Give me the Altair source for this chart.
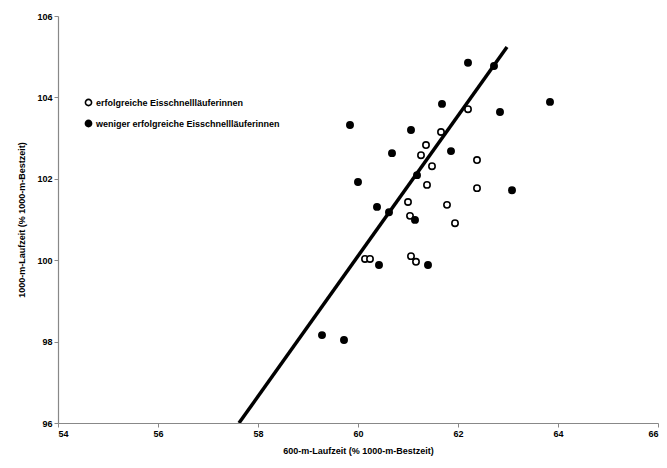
import altair as alt
import pandas as pd

# successful skaters (open circles)
open_x = [62.20, 61.66, 61.36, 61.26, 61.48, 62.38, 62.38, 61.38, 61.00, 61.78, 61.04, 61.94, 60.14, 60.24, 61.06, 61.16]
open_y = [103.71, 103.15, 102.83, 102.58, 102.31, 102.46, 101.77, 101.85, 101.43, 101.36, 101.09, 100.91, 100.03, 100.03, 100.10, 99.96]

# less successful skaters (filled circles)
filled_x = [59.84, 61.06, 60.68, 62.20, 61.68, 62.84, 63.84, 61.86, 62.72, 60.00, 60.38, 60.62, 61.14, 60.42, 61.40, 63.08, 59.28, 59.72, 61.18]
filled_y = [103.32, 103.20, 102.63, 104.85, 103.84, 103.64, 103.89, 102.68, 104.77, 101.92, 101.31, 101.18, 100.99, 99.88, 99.88, 101.72, 98.16, 98.04, 102.09]

groups = ["erfolgreiche Eisschnellläuferinnen", "weniger erfolgreiche Eisschnellläuferinnen"]

# trend line end points
line_x = [57.62, 62.98]
line_y = [96.0, 105.24]

x_ticks = [54, 56, 58, 60, 62, 64, 66]
y_ticks = [96, 98, 100, 102, 104, 106]

pts = pd.DataFrame({
    "x": open_x + filled_x,
    "y": open_y + filled_y,
    "g": [groups[0]] * len(open_x) + [groups[1]] * len(filled_x),
})
ln = pd.DataFrame({"x": line_x, "y": line_y})

FONT = "Liberation Sans"

xs = alt.Scale(domain=[54, 66], nice=False, zero=False)
ys = alt.Scale(domain=[96, 106], nice=False, zero=False)

xax = alt.Axis(values=x_ticks, format="d", title="600-m-Laufzeit (% 1000-m-Bestzeit)",
               grid=False, tickSize=4, labelPadding=2, titlePadding=8)
yax = alt.Axis(values=y_ticks, format="d", title="1000-m-Laufzeit (% 1000-m-Bestzeit)",
               grid=False, tickSize=4, labelPadding=2, titlePadding=10)

line = alt.Chart(ln).mark_line(color="black", strokeWidth=3.5, clip=True).encode(
    x=alt.X("x:Q", scale=xs, axis=xax),
    y=alt.Y("y:Q", scale=ys, axis=yax),
)

points = alt.Chart(pts).mark_point(filled=True, stroke="black", strokeWidth=1.6, size=40, shape="circle", opacity=1).encode(
    x=alt.X("x:Q", scale=xs),
    y=alt.Y("y:Q", scale=ys),
    fill=alt.Fill("g:N", scale=alt.Scale(domain=groups, range=["white", "black"]),
                  legend=alt.Legend(title=None, orient="none", legendX=26, legendY=82,
                                    symbolType="circle", symbolSize=38, symbolStrokeColor="black",
                                    symbolStrokeWidth=1.6, labelFont=FONT, labelFontSize=9,
                                    labelFontWeight="bold", labelColor="black", rowPadding=8,
                                    padding=0, labelOffset=3, labelLimit=0)),
)

chart = alt.layer(line, points).properties(
    width=600, height=407,
    autosize=alt.AutoSizeParams(type="none"),
    padding={"left": 50, "top": 8, "right": 1, "bottom": 37},
).configure_view(stroke=None).configure_axis(
    domainColor="#888888", tickColor="#888888", domainWidth=1.2,
    labelFont=FONT, labelFontSize=9, labelFontWeight="bold", labelColor="black",
    titleFont=FONT, titleFontSize=9, titleFontWeight="bold", titleColor="black",
)

chart.save("out.html", embed_options={"renderer": "svg", "actions": False})
